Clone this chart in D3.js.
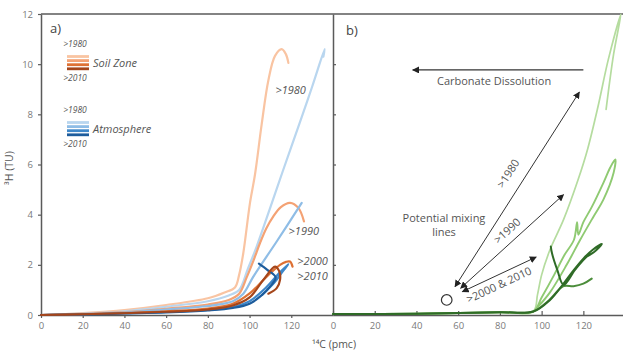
<!DOCTYPE html>
<html lang="en">
<head>
<meta charset="UTF-8">
<title>3H vs 14C</title>
<script src="https://d3js.org/d3.v7.min.js"></script>
<style>
  body { margin: 0; background: #fff; }
  svg { font-family: "Open Sans", "DejaVu Sans", sans-serif; }
</style>
</head>
<body>
<svg id="chart" width="623" height="354"></svg>
<script>
// ---- data (C = 14C pmc, H = 3H TU) ----
const xTicks = [0, 20, 40, 60, 80, 100, 120];
const yTicks = [0, 2, 4, 6, 8, 10, 12];

// panel a) soil zone
const soil1980 = [[0,0],[20,0.08],[40,0.2],[60,0.4],[80,0.67],[88,0.9],[93,1.1],[95,1.6],[97,2.47],[100.2,4.47],[102.6,5.6],[105.8,7.6],[109,9.35],[112.2,10.33],[115.4,10.6],[117.4,10.4],[118.6,10.05]];
const soil1990 = [[0,0],[20,0.05],[40,0.12],[60,0.25],[80,0.42],[90,0.6],[95,0.85],[98.6,1.5],[102,2.2],[105,2.87],[108,3.45],[111.4,3.93],[115,4.3],[119.4,4.47],[123.4,4.27],[126.1,3.73]];
const soil2000 = [[0,0],[20,0.03],[40,0.08],[60,0.15],[80,0.26],[92,0.45],[100.2,0.87],[108.2,1.53],[114.6,2.0],[117.5,2.12],[119.4,2.13],[120.6,1.93]];
const soil2010 = [[0,0],[20,0.03],[40,0.07],[60,0.13],[80,0.22],[92,0.38],[100,0.7],[106.6,1.4],[112.2,1.93],[114.2,1.75],[114.6,1.4],[113,1.07],[109,0.85]];
// panel a) atmosphere
const atm1980 = [[0,0],[20,0.06],[40,0.15],[60,0.33],[80,0.55],[90,0.78],[95,1.0],[99,1.8],[103.4,2.73],[110,4.3],[116.2,5.8],[124.2,7.7],[130,9.1],[136,10.6],[135.4,10.3]];
const atm1990 = [[0,0],[20,0.04],[40,0.1],[60,0.22],[80,0.36],[92,0.55],[97,0.85],[101.8,1.53],[113,2.93],[125,4.47]];
const atm2000 = [[0,0],[20,0.03],[40,0.07],[60,0.12],[80,0.2],[92,0.32],[100,0.55],[108,1.1],[114,1.65],[118.6,2.03],[116,1.75],[112,1.3],[106,0.8]];
const atm2010 = [[0,0],[20,0.02],[40,0.06],[60,0.1],[80,0.18],[92,0.28],[100,0.45],[106,0.8],[110,1.15],[112.5,1.5],[108.5,1.8],[104.5,2.05]];

// panel b) groundwater (shared flat start, then each series)
const greenBase = [[0,0.04],[40,0.05],[80,0.11],[96,0.14]];
const green1980 = [[98,0.8],[100,1.6],[104,2.6],[110.5,3.8],[117.5,5.4],[122,6.6],[127,8.3],[132,10.2],[138,12],[134.5,10.4],[130.9,8.2]];
const green1990 = [[100,0.7],[106,1.6],[111,2.4],[115.5,3.0],[117,3.7],[117.6,3.2],[120,3.7],[124,4.3],[129.6,5.27],[133,5.9],[135.3,6.2],[134.5,5.67],[129.6,4.6],[124.9,3.93],[118.5,3.0],[112,2.0],[104,0.9],[98,0.3]];
const green2000 = [[103,0.55],[110.5,1.15],[115.3,1.15],[120,1.25],[124,1.45]];
const green2010 = [[104,0.6],[110.5,1.25],[115,1.75],[120,2.25],[124.5,2.6],[128.9,2.83],[125,2.5],[121.7,2.33],[116,1.8],[110.5,1.2],[107.5,1.8],[105,2.45],[104.4,2.73]];

// annotations (data units)
const mixingCircle = [54.5, 0.6];
const carbArrow = [[120, 9.77], [38.2, 9.77]];
const mixArrows = [
  { label: ">1980", from: [58.5, 1.13], to: [118.1, 8.89], at: [84, 5.64] },
  { label: ">1990", from: [61.2, 1.07], to: [110.5, 4.8], at: [83.5, 3.36] },
  { label: ">2000 & 2010", from: [62, 0.93], to: [97.4, 2.31], at: [79.6, 1.2] }
];
const aLabels = [
  { text: ">1980", at: [119.7, 8.96] },
  { text: ">1990", at: [126, 3.33] },
  { text: ">2000", at: [130.2, 2.16] },
  { text: ">2010", at: [130.2, 1.56] }
];

const soilColors = ["#f9c4a2", "#f4a274", "#de7134", "#a5461b"];
const atmColors  = ["#b9d6ef", "#8fbde6", "#3e87c9", "#1d5c9c"];
const greenColors = ["#b5dc9f", "#8fca72", "#4c8d3b", "#2f6b27"];

// ---- layout ----
const svg = d3.select("#chart");
const plotTop = 14, plotBottom = 315;
const xa = d3.scaleLinear().domain([0, 140]).range([41, 333]);
const xb = d3.scaleLinear().domain([0, 139]).range([333, 623]);
const y = d3.scaleLinear().domain([0, 12]).range([plotBottom, plotTop]);
const axisColor = "#5a5a5a", tickColor = "#7a7a7a", textColor = "#555";

const defs = svg.append("defs");
function marker(id, orient) {
  defs.append("marker").attr("id", id).attr("viewBox", "0 0 10 10")
    .attr("refX", 9).attr("refY", 5).attr("markerWidth", 7).attr("markerHeight", 7)
    .attr("markerUnits", "userSpaceOnUse").attr("orient", orient)
    .append("path").attr("d", "M0,0L10,5L0,10z").attr("fill", "#222");
}
marker("arrowEnd", "auto");
marker("arrowStart", "auto-start-reverse");

// frame: top line
svg.append("line").attr("x1", 41).attr("x2", 623).attr("y1", plotTop).attr("y2", plotTop)
  .attr("stroke", axisColor).attr("stroke-width", 1.5);

// panel a axes
const gxa = svg.append("g").attr("transform", `translate(0,${plotBottom})`)
  .call(d3.axisBottom(xa).tickValues(xTicks).tickSize(3).tickSizeOuter(0));
const gya = svg.append("g").attr("transform", `translate(41,0)`)
  .call(d3.axisLeft(y).tickValues(yTicks).tickSize(3).tickSizeOuter(0));
// panel b axes
const gxb = svg.append("g").attr("transform", `translate(0,${plotBottom})`)
  .call(d3.axisBottom(xb).tickValues(xTicks).tickSize(-4).tickSizeOuter(0));
const gyb = svg.append("g").attr("transform", `translate(333,0)`)
  .call(d3.axisRight(y).tickValues(yTicks.slice(1, -1)).tickSize(3).tickFormat("").tickSizeOuter(0));

[gxa, gya, gxb, gyb].forEach(g => {
  g.select(".domain").attr("stroke", axisColor).attr("stroke-width", 1.5);
  g.selectAll(".tick line").attr("stroke", axisColor).attr("stroke-width", 1.2);
  g.selectAll(".tick text").attr("fill", tickColor).attr("font-size", 9.5)
    .attr("font-family", "Open Sans, sans-serif");
});
[gxa, gxb].forEach(g => g.selectAll(".tick text").attr("dy", "1.05em").attr("y", 4));
gya.selectAll(".tick text").attr("x", -8);

// axis titles
svg.append("text").attr("transform", "translate(13,168) rotate(-90)")
  .attr("text-anchor", "middle").attr("fill", textColor).attr("font-size", 10.5)
  .text("³H (TU)");
svg.append("text").attr("x", 334).attr("y", 348)
  .attr("text-anchor", "middle").attr("fill", textColor).attr("font-size", 10.5)
  .text("¹⁴C (pmc)");

svg.append("text").attr("x", 50).attr("y", 33).attr("fill", "#444").attr("font-size", 13).text("a)");
svg.append("text").attr("x", 346).attr("y", 35).attr("fill", "#444").attr("font-size", 13).text("b)");

// ---- panel a lines ----
const lineA = d3.line().x(d => xa(d[0])).y(d => y(d[1])).curve(d3.curveCatmullRom.alpha(0.5));
const lineB = d3.line().x(d => xb(d[0])).y(d => y(d[1])).curve(d3.curveCatmullRom.alpha(0.5));

const panelA = [
  [soil1980, soilColors[0]], [atm1980, atmColors[0]],
  [soil1990, soilColors[1]], [atm1990, atmColors[1]],
  [atm2000, atmColors[2]], [soil2000, soilColors[2]],
  [atm2010, atmColors[3]], [soil2010, soilColors[3]]
];
svg.append("g").selectAll("path").data(panelA).join("path")
  .attr("d", d => lineA(d[0])).attr("fill", "none")
  .attr("stroke", d => d[1]).attr("stroke-width", 2.2)
  .attr("stroke-linejoin", "round").attr("stroke-linecap", "round");

svg.append("g").selectAll("text").data(aLabels).join("text")
  .attr("x", d => xa(d.at[0])).attr("y", d => y(d.at[1])).attr("dy", "0.35em")
  .attr("text-anchor", "middle").attr("font-style", "italic").attr("font-size", 11)
  .attr("fill", textColor).text(d => d.text);

// legend
function legend(y0, colors, name) {
  const g = svg.append("g");
  g.append("text").attr("x", 75).attr("y", y0).attr("text-anchor", "middle")
    .attr("font-size", 8.5).attr("font-style", "italic").attr("fill", textColor).text(">1980");
  colors.forEach((c, i) => {
    g.append("line").attr("x1", 67).attr("x2", 89)
      .attr("y1", y0 + 9.5 + i * 4.1).attr("y2", y0 + 9.5 + i * 4.1)
      .attr("stroke", c).attr("stroke-width", 2.8);
  });
  g.append("text").attr("x", 93).attr("y", y0 + 19.5).attr("font-size", 11)
    .attr("font-style", "italic").attr("fill", textColor).text(name);
  g.append("text").attr("x", 75).attr("y", y0 + 33.5).attr("text-anchor", "middle")
    .attr("font-size", 8.5).attr("font-style", "italic").attr("fill", textColor).text(">2010");
}
legend(47, soilColors, "Soil Zone");
legend(113, atmColors, "Atmosphere");

// ---- panel b ----
const panelB = [
  [greenBase.concat(green1980), greenColors[0], 1.7], [greenBase.concat(green1990), greenColors[1], 1.9],
  [greenBase.concat(green2000), greenColors[2], 2], [greenBase.concat(green2010), greenColors[3], 2]
];
svg.append("g").selectAll("path").data(panelB).join("path")
  .attr("d", d => lineB(d[0])).attr("fill", "none")
  .attr("stroke", d => d[1]).attr("stroke-width", d => d[2])
  .attr("stroke-linejoin", "round").attr("stroke-linecap", "round");

// carbonate dissolution arrow
svg.append("line")
  .attr("x1", xb(carbArrow[0][0])).attr("y1", y(carbArrow[0][1]))
  .attr("x2", xb(carbArrow[1][0])).attr("y2", y(carbArrow[1][1]))
  .attr("stroke", "#333").attr("stroke-width", 1.3).attr("marker-end", "url(#arrowEnd)");
svg.append("text").attr("x", xb(77.2)).attr("y", y(9.32)).attr("dy", "0.35em")
  .attr("text-anchor", "middle").attr("font-size", 11).attr("fill", textColor)
  .text("Carbonate Dissolution");

// mixing lines
mixArrows.forEach(a => {
  const x1 = xb(a.from[0]), y1 = y(a.from[1]), x2 = xb(a.to[0]), y2 = y(a.to[1]);
  svg.append("line").attr("x1", x1).attr("y1", y1).attr("x2", x2).attr("y2", y2)
    .attr("stroke", "#333").attr("stroke-width", 1)
    .attr("marker-start", "url(#arrowStart)").attr("marker-end", "url(#arrowEnd)");
  const ang = Math.atan2(y2 - y1, x2 - x1) * 180 / Math.PI;
  svg.append("text")
    .attr("transform", `translate(${xb(a.at[0])},${y(a.at[1])}) rotate(${ang})`)
    .attr("text-anchor", "middle").attr("dy", "0.35em")
    .attr("font-size", 11).attr("fill", textColor).text(a.label);
});

svg.append("circle").attr("cx", xb(mixingCircle[0])).attr("cy", y(mixingCircle[1]))
  .attr("r", 5.3).attr("fill", "none").attr("stroke", "#333").attr("stroke-width", 1.2);

const pm = svg.append("text").attr("x", xb(53.2)).attr("y", y(3.88)).attr("dy", "0.35em")
  .attr("text-anchor", "middle").attr("font-size", 11).attr("fill", textColor);
pm.append("tspan").attr("x", xb(53.2)).text("Potential mixing");
pm.append("tspan").attr("x", xb(53.2)).attr("dy", "1.35em").text("lines");
</script>
</body>
</html>
